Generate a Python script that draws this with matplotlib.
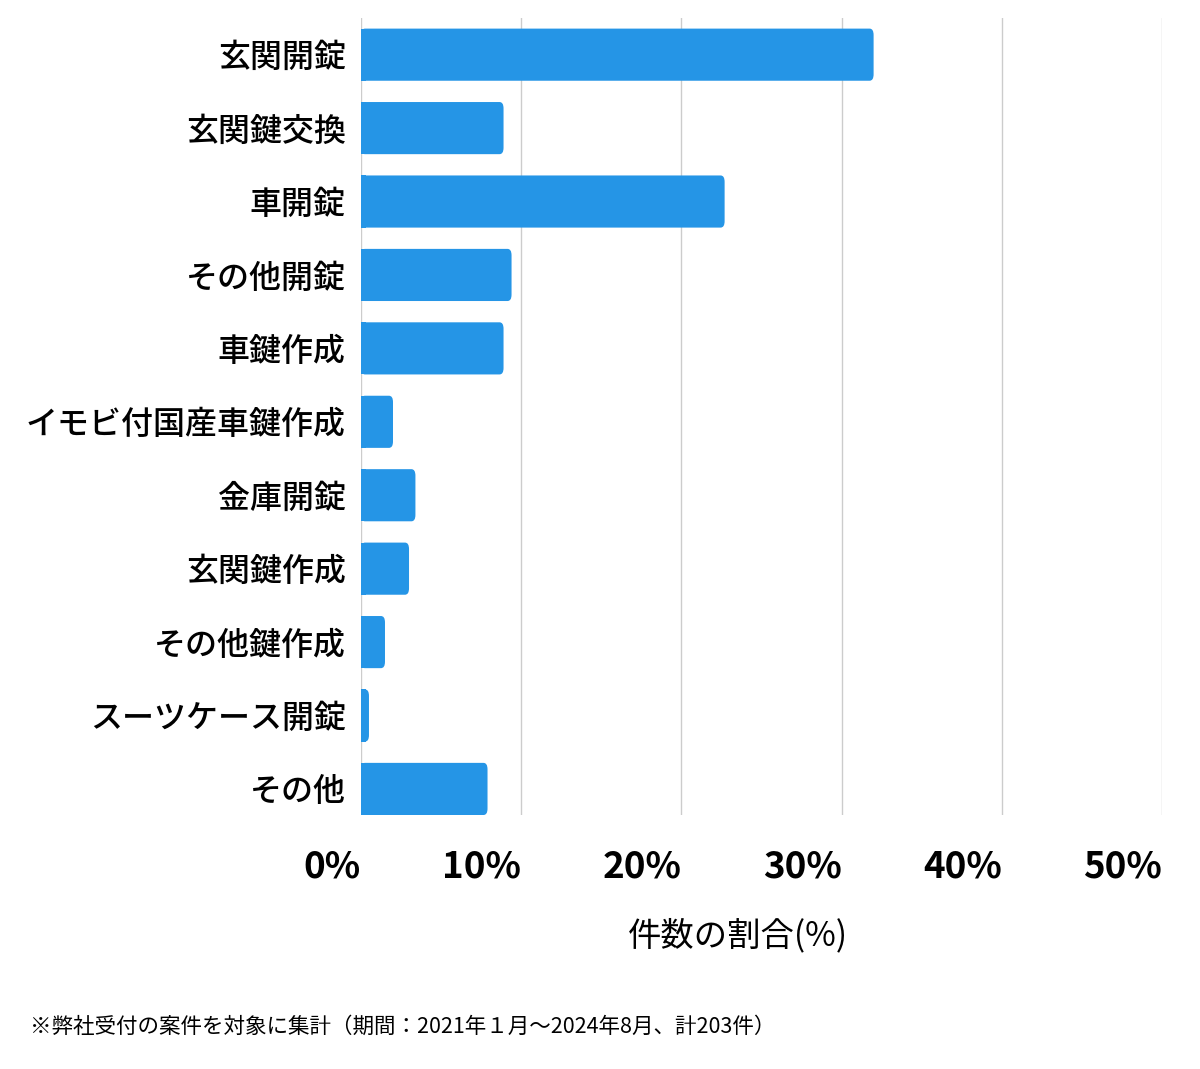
import matplotlib.pyplot as plt
from matplotlib.patches import FancyBboxPatch

plt.rcParams['font.family'] = ['Noto Sans CJK JP', 'DejaVu Sans']

# ========= データ =========
categories = [
    "玄関開錠", "玄関鍵交換", "車開錠", "その他開錠", "車鍵作成",
    "イモビ付国産車鍵作成", "金庫開錠", "玄関鍵作成", "その他鍵作成",
    "スーツケース開錠", "その他",
]
# 件数の割合(%)
shares = [32.0, 8.9, 22.7, 9.4, 8.9, 2.0, 3.4, 3.0, 1.5, 0.5, 7.9]
xticks = [0, 10, 20, 30, 40, 50]
xtick_labels = ["0%", "10%", "20%", "30%", "40%", "50%"]

BAR_COLOR = "#2595e6"
BAR_H = 0.71

fig = plt.figure(figsize=(12, 10.69), dpi=100)
ax = fig.add_axes([0.3008, 0.2376, 0.6675, 0.7456])

ypos = list(range(len(categories)))
bars = ax.barh(ypos, shares, height=BAR_H, color=BAR_COLOR, zorder=3)

# 右端を少し丸める
for b in bars:
    x0, y0 = b.get_x(), b.get_y()
    w, h = b.get_width(), b.get_height()
    b.set_visible(False)
    p = FancyBboxPatch((x0, y0), w, h,
                       boxstyle="round,pad=0,rounding_size=0.25",
                       mutation_aspect=0.35,
                       facecolor=BAR_COLOR, edgecolor="none", zorder=3)
    ax.add_patch(p)
    # 左側は角丸なし
    ax.barh(y0 + h / 2, min(w, 0.3), height=h, color=BAR_COLOR, zorder=3)

ax.set_xlim(0, 50)
ax.set_ylim(len(categories) - 1 + BAR_H / 2, -0.5)

ax.set_yticks(ypos)
ax.set_yticklabels(categories, fontsize=23, fontweight="medium")
ax.set_xticks(xticks)
ax.set_xticklabels(xtick_labels, fontsize=26.5, fontweight="bold", ha="right")

ax.tick_params(axis="both", length=0)
ax.tick_params(axis="y", pad=11)
ax.tick_params(axis="x", pad=24)

ax.grid(axis="x", color="#cccccc", linewidth=1, zorder=0)
for s in ax.spines.values():
    s.set_visible(False)

fig.text(0.615, 0.125, "件数の割合(%)", fontsize=24, ha="center", va="center")
fig.text(0.025, 0.039,
         "※弊社受付の案件を対象に集計（期間：2021年１月～2024年8月、計203件）",
         fontsize=15.5, ha="left", va="center")

fig.savefig("out.png", dpi=100)
